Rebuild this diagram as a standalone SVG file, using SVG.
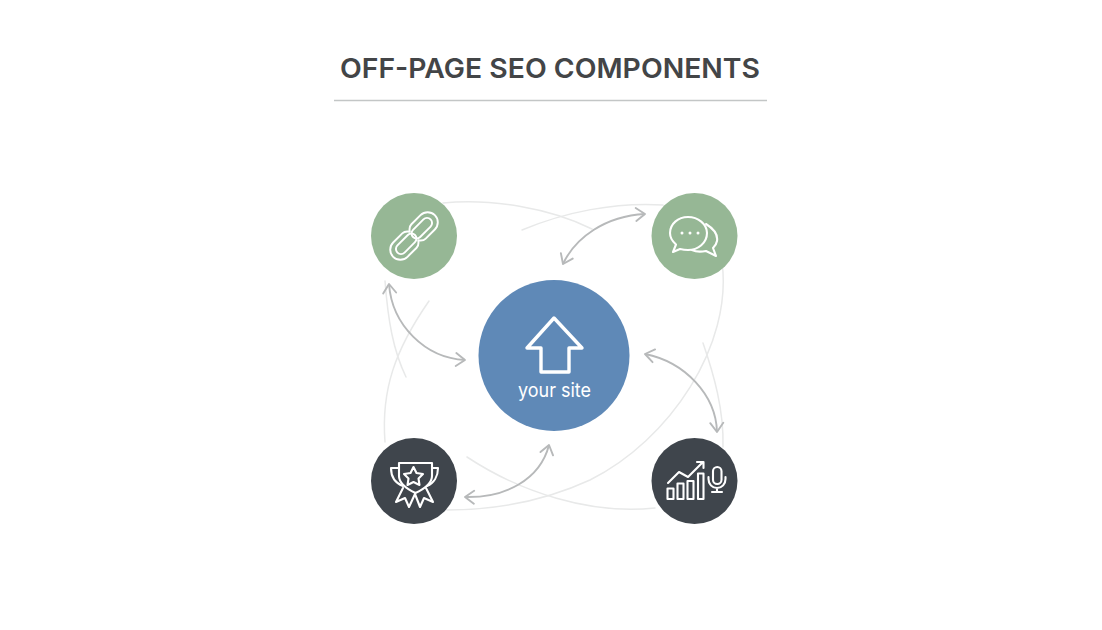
<svg xmlns="http://www.w3.org/2000/svg" width="1102" height="630" viewBox="0 0 1102 630">
<style>
.faint{fill:none;stroke:#e8e9e9;stroke-width:1.5;stroke-linecap:round}
.arrow{fill:none;stroke:#b7b9ba;stroke-width:1.9;marker-start:url(#v);marker-end:url(#v)}
.ic{fill:none;stroke:#fff;stroke-width:2.1;stroke-linejoin:round;stroke-linecap:round}
.green{fill:#96b795}.dark{fill:#3f454c}.blue{fill:#5f89b7}
text{font-family:"Inter","Liberation Sans",sans-serif}
</style>
<defs>
<marker id="v" viewBox="-12 -8 14 16" markerWidth="14" markerHeight="16" refX="0" refY="0" orient="auto-start-reverse" markerUnits="userSpaceOnUse">
<path d="M-9,-6.500 L0,0 L-9,6.500" fill="none" stroke="#b7b9ba" stroke-width="1.9" stroke-linecap="round" stroke-linejoin="round"/>
</marker>
</defs>
<rect width="1102" height="630" fill="#fff"/>
<g id="title">
<text x="550" y="78" text-anchor="middle" font-size="27.500" font-weight="600" fill="#434547" textLength="420" lengthAdjust="spacingAndGlyphs">OFF-PAGE SEO COMPONENTS</text>
<path d="M334,100.500H767" stroke="#c3c6c6" stroke-width="1.600" fill="none"/>
</g>
<g id="connectors">
<path class="faint" d="M443,203C490,198 550,208 592,229"/>
<path class="faint" d="M522,230C565,212 615,202 663,205"/>
<path class="faint" d="M722,262C733,345 670,440 590,480C540,503 490,510 447,510"/>
<path class="faint" d="M467,457C520,492 590,515 655,508"/>
<path class="faint" d="M385,442C381,390 395,350 429,301"/>
<path class="faint" d="M385,281C388,320 393,350 406,377"/>
<path class="faint" d="M703,343C714,375 724,410 723,447"/>
<path class="arrow" d="M563,264C575,238 605,216 645,214"/>
<path class="arrow" d="M389,284C392,325 425,358 465,360"/>
<path class="arrow" d="M645,354C685,362 716,395 717,432"/>
<path class="arrow" d="M465,497C505,498 540,480 549,445"/>
</g>
<g id="node-links">
<circle class="green" cx="414" cy="236" r="43"/>
<g class="ic" transform="translate(414 236) rotate(-45) scale(.92)">
<path d="M-21,-11H-7Q-3,-11 0,-6.500Q3,-11 7,-11H21A11,11 0 0 1 21,11H7Q3,11 0,6.500Q-3,11 -7,11H-21A11,11 0 0 1 -21,-11Z"/>
<path d="M-20,-5.500H-4A5.500,5.500 0 0 1 -4,5.500H-20A5.500,5.500 0 0 1 -20,-5.500Z"/>
<path d="M4,-5.500H20A5.500,5.500 0 0 1 20,5.500H4A5.500,5.500 0 0 1 4,-5.500Z"/>
</g>
</g>
<g id="node-social">
<circle class="green" cx="694.500" cy="236" r="43"/>
<g class="ic">
<path d="M688,217C698,217 707,224 707,233C707,243 698,250 688,250C685,250 682,249.500 680,249L673,252L676,244.500C672,241 670,237 670,233C670,224 678,217 688,217Z"/>
<path d="M706,224C714,229 718,235 717,241C716.500,244 715,246 713,248L716,256L706,251C701,252 696,252 692,250"/>
</g>
<g fill="#fff"><circle cx="682" cy="233" r="1.500"/><circle cx="690" cy="233" r="1.500"/><circle cx="698" cy="233" r="1.500"/></g>
</g>
<g id="node-authority">
<circle class="dark" cx="414" cy="481" r="43"/>
<g class="ic">
<path d="M399,463H432V476C432,484 424,489 415.500,493C407,489 399,484 399,476Z"/>
<path d="M399,468H391C391,476 395,483 403,486"/>
<path d="M432,468H438C438,476 434,483 427,486"/>
<path d="M413.500,467L416.500,473L423,474L418.500,478.500L419.500,485L413.500,482L407.500,485L408.500,478.500L404,474L410.500,473Z"/>
<path d="M403,488L396,502L405,498L409,507L415,494"/>
<path d="M426,488L433,502L424,498L420,507L415,494"/>
</g>
</g>
<g id="node-analytics">
<circle class="dark" cx="694.500" cy="481" r="43"/>
<g class="ic">
<rect x="667.500" y="488.500" width="6" height="10.500"/>
<rect x="677.500" y="483.500" width="6" height="15.500"/>
<rect x="687.500" y="481" width="6" height="18"/>
<rect x="698" y="473.500" width="5.500" height="25.500"/>
<path d="M668,483L679,472L688,477L703,462M697,462H703.500V468"/>
<rect x="713" y="467" width="8.500" height="17" rx="4.250"/>
<path d="M708.500,477V479C708.500,484 712,488 717,488C722,488 725.500,484 725.500,479V477M717,488V492M712,492H722"/>
</g>
</g>
<g id="node-your-site">
<circle class="blue" cx="554" cy="355.500" r="75.500"/>
<path d="M554,318L582,348H569V372H541V348H527Z" fill="none" stroke="#fff" stroke-width="3.400" stroke-linejoin="round"/>
<text x="554.500" y="397" text-anchor="middle" font-size="19" fill="#fff" textLength="73" lengthAdjust="spacingAndGlyphs">your site</text>
</g>
</svg>
